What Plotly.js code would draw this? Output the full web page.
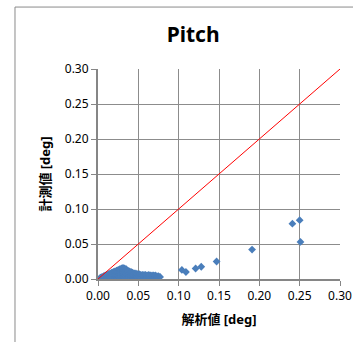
<!DOCTYPE html>
<html>
<head>
<meta charset="utf-8">
<script src="https://cdn.plot.ly/plotly-3.0.1.min.js"></script>
<style>
  html, body { margin: 0; padding: 0; background: #ffffff; }
  #chart { width: 353px; height: 342px; }
</style>
</head>
<body>
<div id="chart"></div>
<script>
// Dense group of small-angle samples (analysis value, measured value) [deg]
const clusterX = [
  0.003, 0.003,
  0.005, 0.005,
  0.007, 0.007,
  0.009, 0.009, 0.009,
  0.011, 0.011, 0.011,
  0.013, 0.013, 0.013, 0.013,
  0.015, 0.015, 0.015, 0.015,
  0.017, 0.017, 0.017, 0.017, 0.017,
  0.019, 0.019, 0.019, 0.019, 0.019,
  0.021, 0.021, 0.021, 0.021, 0.021, 0.021,
  0.023, 0.023, 0.023, 0.023, 0.023, 0.023,
  0.025, 0.025, 0.025, 0.025, 0.025, 0.025, 0.025,
  0.027, 0.027, 0.027, 0.027, 0.027, 0.027, 0.027,
  0.029, 0.029, 0.029, 0.029, 0.029, 0.029, 0.029, 0.029,
  0.031, 0.031, 0.031, 0.031, 0.031, 0.031, 0.031, 0.031,
  0.033, 0.033, 0.033, 0.033, 0.033, 0.033, 0.033, 0.033,
  0.035, 0.035, 0.035, 0.035, 0.035, 0.035, 0.035,
  0.037, 0.037, 0.037, 0.037, 0.037, 0.037,
  0.039, 0.039, 0.039, 0.039, 0.039,
  0.041, 0.041, 0.041, 0.041, 0.041,
  0.043, 0.043, 0.043, 0.043,
  0.045, 0.045, 0.045, 0.045,
  0.047, 0.047, 0.047, 0.047,
  0.049, 0.049, 0.049,
  0.051, 0.051, 0.051,
  0.053, 0.053, 0.053,
  0.055, 0.055, 0.055,
  0.057, 0.057, 0.057,
  0.059, 0.059, 0.059,
  0.061, 0.061, 0.061,
  0.063, 0.063, 0.063,
  0.065, 0.065, 0.065,
  0.067, 0.067,
  0.069, 0.069, 0.069,
  0.071, 0.071,
  0.073, 0.073,
  0.075, 0.075,
  0.077
];
const clusterY = [
  0.001, 0.002,
  0.001, 0.003,
  0.002, 0.004,
  0.001, 0.003, 0.005,
  0.002, 0.004, 0.006,
  0.001, 0.003, 0.005, 0.007,
  0.002, 0.004, 0.006, 0.008,
  0.001, 0.003, 0.005, 0.007, 0.009,
  0.002, 0.004, 0.006, 0.008, 0.010,
  0.001, 0.003, 0.005, 0.007, 0.009, 0.011,
  0.002, 0.004, 0.006, 0.008, 0.010, 0.012,
  0.001, 0.003, 0.005, 0.007, 0.009, 0.011, 0.013,
  0.002, 0.004, 0.006, 0.008, 0.010, 0.012, 0.014,
  0.001, 0.003, 0.005, 0.007, 0.009, 0.011, 0.013, 0.015,
  0.002, 0.004, 0.006, 0.008, 0.010, 0.012, 0.014, 0.016,
  0.001, 0.003, 0.005, 0.007, 0.009, 0.011, 0.013, 0.015,
  0.002, 0.004, 0.006, 0.008, 0.010, 0.012, 0.014,
  0.001, 0.003, 0.005, 0.007, 0.009, 0.012,
  0.002, 0.004, 0.006, 0.008, 0.011,
  0.001, 0.003, 0.005, 0.007, 0.010,
  0.002, 0.004, 0.006, 0.009,
  0.001, 0.003, 0.005, 0.008,
  0.002, 0.004, 0.006, 0.008,
  0.001, 0.003, 0.007,
  0.002, 0.004, 0.007,
  0.001, 0.003, 0.006,
  0.002, 0.004, 0.006,
  0.001, 0.003, 0.006,
  0.002, 0.004, 0.006,
  0.001, 0.003, 0.005,
  0.002, 0.004, 0.006,
  0.001, 0.003, 0.005,
  0.002, 0.005,
  0.001, 0.003, 0.005,
  0.002, 0.005,
  0.001, 0.004,
  0.002, 0.004,
  0.003
];

// Larger-angle samples
const spreadX = [0.104, 0.109, 0.121, 0.128, 0.147, 0.191, 0.241, 0.250, 0.251];
const spreadY = [0.013, 0.010, 0.015, 0.0175, 0.025, 0.042, 0.079, 0.084, 0.053];

// Ideal agreement line (measured = analysis)
const idealX = [0.00, 0.30];
const idealY = [0.00, 0.30];

const tickVals = [0.00, 0.05, 0.10, 0.15, 0.20, 0.25, 0.30];
const tickText = ['0.00', '0.05', '0.10', '0.15', '0.20', '0.25', '0.30'];

const blue = '#4a7ebb';

const traces = [
  {
    x: clusterX.concat(spreadX),
    y: clusterY.concat(spreadY),
    type: 'scatter',
    mode: 'markers',
    marker: { symbol: 'diamond', size: 6, color: blue, line: { width: 0 } },
    hoverinfo: 'x+y'
  },
  {
    x: idealX,
    y: idealY,
    type: 'scatter',
    mode: 'lines',
    line: { color: '#ff0000', width: 1 },
    hoverinfo: 'skip'
  }
];

const axisCommon = {
  range: [0, 0.30],
  tickmode: 'array',
  tickvals: tickVals,
  ticktext: tickText,
  showgrid: true,
  gridcolor: '#8c8c8c',
  gridwidth: 1,
  zeroline: false,
  showline: true,
  linecolor: '#868686',
  linewidth: 2,
  ticks: 'outside',
  ticklen: 5,
  tickcolor: '#868686',
  tickwidth: 1,
  tickfont: { family: 'Noto Sans, sans-serif', size: 12, color: '#000000' },
  fixedrange: true
};

const layout = {
  width: 353,
  height: 342,
  margin: { l: 98, r: 13, t: 69, b: 63 },
  paper_bgcolor: '#ffffff',
  plot_bgcolor: '#ffffff',
  showlegend: false,
  title: {
    text: '<b>Pitch</b>',
    font: { family: 'Noto Sans, sans-serif', size: 21, color: '#000000' },
    x: 0.547,
    xref: 'container',
    xanchor: 'center',
    y: 0.898,
    yref: 'container',
    yanchor: 'middle'
  },
  xaxis: Object.assign({}, axisCommon, {
    title: {
      text: '<b>解析値 [deg]</b>',
      font: { family: 'Noto Sans, Noto Sans CJK JP, sans-serif', size: 13, color: '#000000' },
      standoff: 11
    }
  }),
  yaxis: Object.assign({}, axisCommon, {
    title: {
      text: '<b>計測値 [deg]</b>',
      font: { family: 'Noto Sans, Noto Sans CJK JP, sans-serif', size: 13, color: '#000000' },
      standoff: 11
    }
  }),
  shapes: [
    {
      type: 'rect',
      xref: 'paper', yref: 'paper',
      x0: -0.343, x1: 1.6, y0: -1.0, y1: 1.295,
      line: { color: '#8a8a8a', width: 1 },
      fillcolor: 'rgba(0,0,0,0)',
      layer: 'below'
    }
  ]
};

Plotly.newPlot('chart', traces, layout, { displayModeBar: false, staticPlot: true });
</script>
</body>
</html>
